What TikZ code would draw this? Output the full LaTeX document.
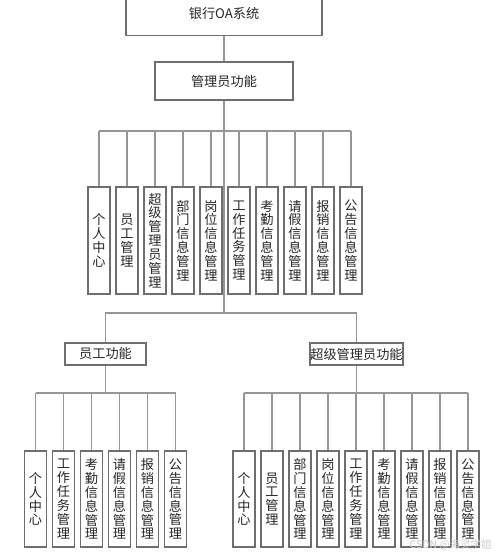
\documentclass[tikz,border=0pt]{standalone}
\usepackage{fontspec}
\setmainfont{Noto Sans CJK SC}
\usetikzlibrary{positioning}
\definecolor{linegray}{RGB}{150,150,150}
\definecolor{boxgray}{RGB}{110,110,110}
\tikzset{
  hbox/.style={draw=boxgray,line width=0.6pt,minimum height=0.44cm,inner sep=0pt,
    font=\fontsize{7.5pt}{8pt}\selectfont,text=black!85},
  vbox/.style={draw=boxgray,line width=0.6pt,minimum width=0.44cm,inner sep=0pt,
    align=center,font=\fontsize{7.5pt}{7.9pt}\selectfont,text=black!85},
  link/.style={draw=linegray,line width=0.9pt}
}
\begin{document}
\begin{tikzpicture}[x=0.02cm,y=-0.02cm]
\useasboundingbox (0,0) rectangle (500,555);

\node[hbox,minimum width=3.92cm,minimum height=0.9cm] (root) at (224,13) {银行OA系统};
\node[hbox,minimum width=2.76cm,minimum height=0.76cm] (admin) at (224,81) {管理员功能};
\node[hbox,minimum width=1.62cm] (emp) at (105.5,354) {员工功能};
\node[hbox,minimum width=1.86cm] (sup) at (356.5,354) {超级管理员功能};

\coordinate (busA) at (224,131);
\coordinate (busB) at (224,313);
\coordinate (busC) at (105.5,393);
\coordinate (busD) at (356.5,393);

\draw[link] (root) -- (admin);
\draw[link] (admin) -- (busB);
\draw[link] (emp) |- (busB) -| (sup);
\draw[link] (emp) -- (busC);
\draw[link] (sup) -- (busD);

% admin functions
\foreach \t [count=\i] in {{个\\人\\中\\心},{员\\工\\管\\理},{超\\级\\管\\理\\员\\管\\理},
  {部\\门\\信\\息\\管\\理},{岗\\位\\信\\息\\管\\理},{工\\作\\任\\务\\管\\理},
  {考\\勤\\信\\息\\管\\理},{请\\假\\信\\息\\管\\理},{报\\销\\信\\息\\管\\理},
  {公\\告\\信\\息\\管\\理}}{
  \node[vbox,minimum height=2.14cm] (a\i) at ({99+28*(\i-1)},240.5) {\t};
  \draw[link] (a\i) -- (a\i |- busA);
}
\draw[link] (a1 |- busA) -- (a10 |- busA);

% employee functions
\foreach \t [count=\i] in {{个\\人\\中\\心},{工\\作\\任\\务\\管\\理},
  {考\\勤\\信\\息\\管\\理},{请\\假\\信\\息\\管\\理},{报\\销\\信\\息\\管\\理},
  {公\\告\\信\\息\\管\\理}}{
  \node[vbox,minimum height=1.92cm] (e\i) at ({35.5+28*(\i-1)},499) {\t};
  \draw[link] (e\i) -- (e\i |- busC);
}
\draw[link] (e1 |- busC) -- (e6 |- busC);

% super admin functions
\foreach \t [count=\i] in {{个\\人\\中\\心},{员\\工\\管\\理},
  {部\\门\\信\\息\\管\\理},{岗\\位\\信\\息\\管\\理},{工\\作\\任\\务\\管\\理},
  {考\\勤\\信\\息\\管\\理},{请\\假\\信\\息\\管\\理},{报\\销\\信\\息\\管\\理},
  {公\\告\\信\\息\\管\\理}}{
  \node[vbox,minimum height=1.92cm] (s\i) at ({244+28*(\i-1)},499) {\t};
  \draw[link] (s\i) -- (s\i |- busD);
}
\draw[link] (s1 |- busD) -- (s9 |- busD);

\node[text=black!20,font=\fontsize{6pt}{6pt}\selectfont,anchor=east] (mark) at (498,545) {CSDN @海灵学姐};
\end{tikzpicture}
\end{document}
